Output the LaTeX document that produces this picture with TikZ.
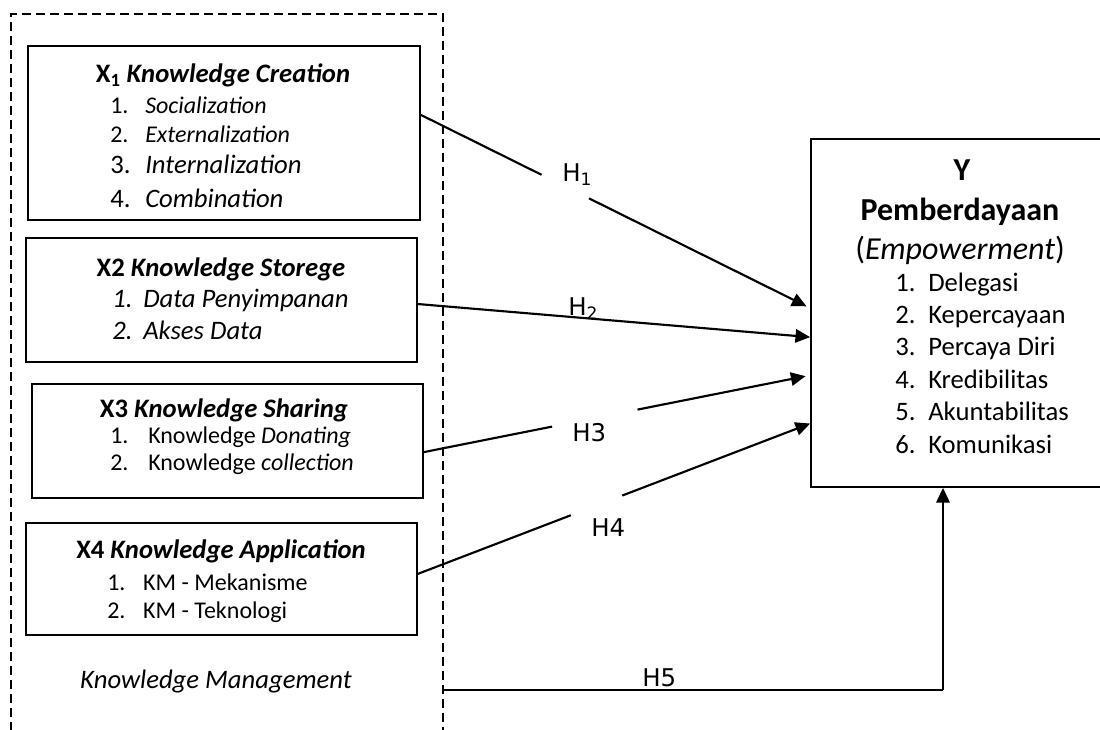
\documentclass[tikz,border=0pt]{standalone}
\usepackage{fontspec}
\setmainfont{Carlito}
\newfontfamily\labfont{DejaVu Sans}
\usetikzlibrary{arrows.meta,calc,fit}

% numbered list line: label in a fixed-width slot, then the entry
\newcommand{\lstitem}[3]{\makebox[#1][l]{#2}#3}

\begin{document}
\begin{tikzpicture}[x=0.75pt,y=-0.75pt,
  box/.style={draw, line width=1.3pt, inner sep=0pt},
  conn/.style={line width=1.6pt},
  tip/.style={-{Triangle[length=11pt,width=10pt]}},
  ctr/.style={inner sep=0pt, anchor=base},
  lft/.style={inner sep=0pt, anchor=base west},
  hyp/.style={inner sep=0pt, anchor=base west, font=\labfont\fontsize{18.3}{22}\selectfont},
  lf/.style={font=\fontsize{18}{22}\selectfont},
  lfb/.style={font=\fontsize{20}{24}\selectfont},
  yf/.style={font=\fontsize{20}{24}\selectfont},
  yfb/.style={font=\fontsize{24}{28}\selectfont}]

\useasboundingbox (0,0) rectangle (1100,729);
\clip (0,0) rectangle (1100,729);

% knowledge management frame (open at the bottom)
\draw[line width=1.1pt, dash pattern=on 6.75pt off 3.75pt] (11,745) -- (11,14) -- (443,14) -- (443,745);

% variable boxes
\node[box, fit={(28,46) (420,220)}] (x1) {};
\node[box, fit={(26,238) (417,362)}] (x2) {};
\node[box, fit={(32,384) (423,498)}] (x3) {};
\node[box, fit={(26,523) (417,635)}] (x4) {};
\node[box, fit={(811,139) (1106,487)}] (y) {};

% X1
\node[ctr, lfb] (x1t) at (223,82) {\textbf{X\textsubscript{1} \textit{Knowledge Creation}}};
\node[lft, lf] (x1a) at (110,113) {\lstitem{26.25pt}{1.}{\textit{Socialization}}};
\node[lft, lf] (x1b) at (110,142) {\lstitem{26.25pt}{2.}{\textit{Externalization}}};
\node[lft, lfb] (x1c) at (110,173) {\lstitem{26.25pt}{3.}{\textit{Internalization}}};
\node[lft, lfb] (x1d) at (110,207) {\lstitem{26.25pt}{4.}{\textit{Combination}}};

% X2
\node[ctr, lfb] (x2t) at (221,276) {\textbf{X2 \textit{Knowledge Storege}}};
\node[lft, lfb] (x2a) at (112,307) {\itshape\lstitem{23.25pt}{1.}{Data Penyimpanan}};
\node[lft, lfb] (x2b) at (112,339) {\itshape\lstitem{23.25pt}{2.}{Akses Data}};

% X3
\node[ctr, lfb] (x3t) at (224,417) {\textbf{X3 \textit{Knowledge Sharing}}};
\node[lft, lf] (x3a) at (110,443) {\lstitem{28.5pt}{1.}{Knowledge \textit{Donating}}};
\node[lft, lf] (x3b) at (110,470) {\lstitem{28.5pt}{2.}{Knowledge \textit{collection}}};

% X4
\node[ctr, lfb] (x4t) at (221,558) {\textbf{X4 \textit{Knowledge Application}}};
\node[lft, lf] (x4a) at (107,590) {\lstitem{27pt}{1.}{KM - Mekanisme}};
\node[lft, lf] (x4b) at (107,618) {\lstitem{27pt}{2.}{KM - Teknologi}};

\node[ctr, lfb] (km) at (216,688) {\textit{Knowledge Management}};

% Y
\node[ctr, yfb] (yt) at (962,180) {\textbf{Y}};
\node[ctr, yfb] (yn) at (960,220) {\textbf{Pemberdayaan}};
\node[ctr, yfb] (ye) at (960,259) {(\textit{Empowerment})};
\node[lft, yf] (y1) at (895,291) {\lstitem{24.75pt}{1.}{Delegasi}};
\node[lft, yf] (y2) at (895,323.4) {\lstitem{24.75pt}{2.}{Kepercayaan}};
\node[lft, yf] (y3) at (895,355.8) {\lstitem{24.75pt}{3.}{Percaya Diri}};
\node[lft, yf] (y4) at (895,388.2) {\lstitem{24.75pt}{4.}{Kredibilitas}};
\node[lft, yf] (y5) at (895,420.6) {\lstitem{24.75pt}{5.}{Akuntabilitas}};
\node[lft, yf] (y6) at (895,453) {\lstitem{24.75pt}{6.}{Komunikasi}};

% connector end points
\coordinate (h1s) at ($(x1.north east)!0.397!(x1.south east)$);
\coordinate (h1e) at ($(y.north west)!0.486!(y.south west)$);
\coordinate (h2s) at ($(x2.north east)!0.532!(x2.south east)$);
\coordinate (h2e) at ($(y.north west)!0.569!(y.south west)$);
\coordinate (h3s) at ($(x3.north east)!0.596!(x3.south east)$);
\coordinate (h3e) at ($(y.north west)!0.678!(y.south west)$);
\coordinate (h4s) at ($(x4.north east)!0.455!(x4.south east)$);
\coordinate (h4e) at ($(y.north west)!0.816!(y.south west)$);
\coordinate (h5s) at (443,690);
\coordinate (h5c) at (943,690);

% H1
\draw[conn] (h1s) -- ($(h1s)!0.31!(h1e)$);
\draw[conn, tip, shorten >=3pt] ($(h1s)!0.432!(h1e)$) -- (h1e);
\node[hyp] (l1) at (562,181) {H\textsubscript{1}};
% H2
\draw[conn, tip] (h2s) -- (h2e);
\node[hyp] (l2) at (568,315) {H\textsubscript{2}};
% H3
\draw[conn] (h3s) -- ($(h3s)!0.332!(h3e)$);
\draw[conn, tip, shorten >=3.5pt] ($(h3s)!0.553!(h3e)$) -- (h3e);
\node[hyp] (l3) at (572,441) {H3};
% H4
\draw[conn] (h4s) -- ($(h4s)!0.39!(h4e)$);
\draw[conn, tip] ($(h4s)!0.521!(h4e)$) -- (h4e);
\node[hyp] (l4) at (591,536) {H4};
% H5
\draw[line width=1.1pt] (h5s) -- (h5c);
\draw[conn, tip] (h5c) -- (h5c |- y.south);
\node[hyp] (l5) at (642,686) {H5};
\end{tikzpicture}
\end{document}
